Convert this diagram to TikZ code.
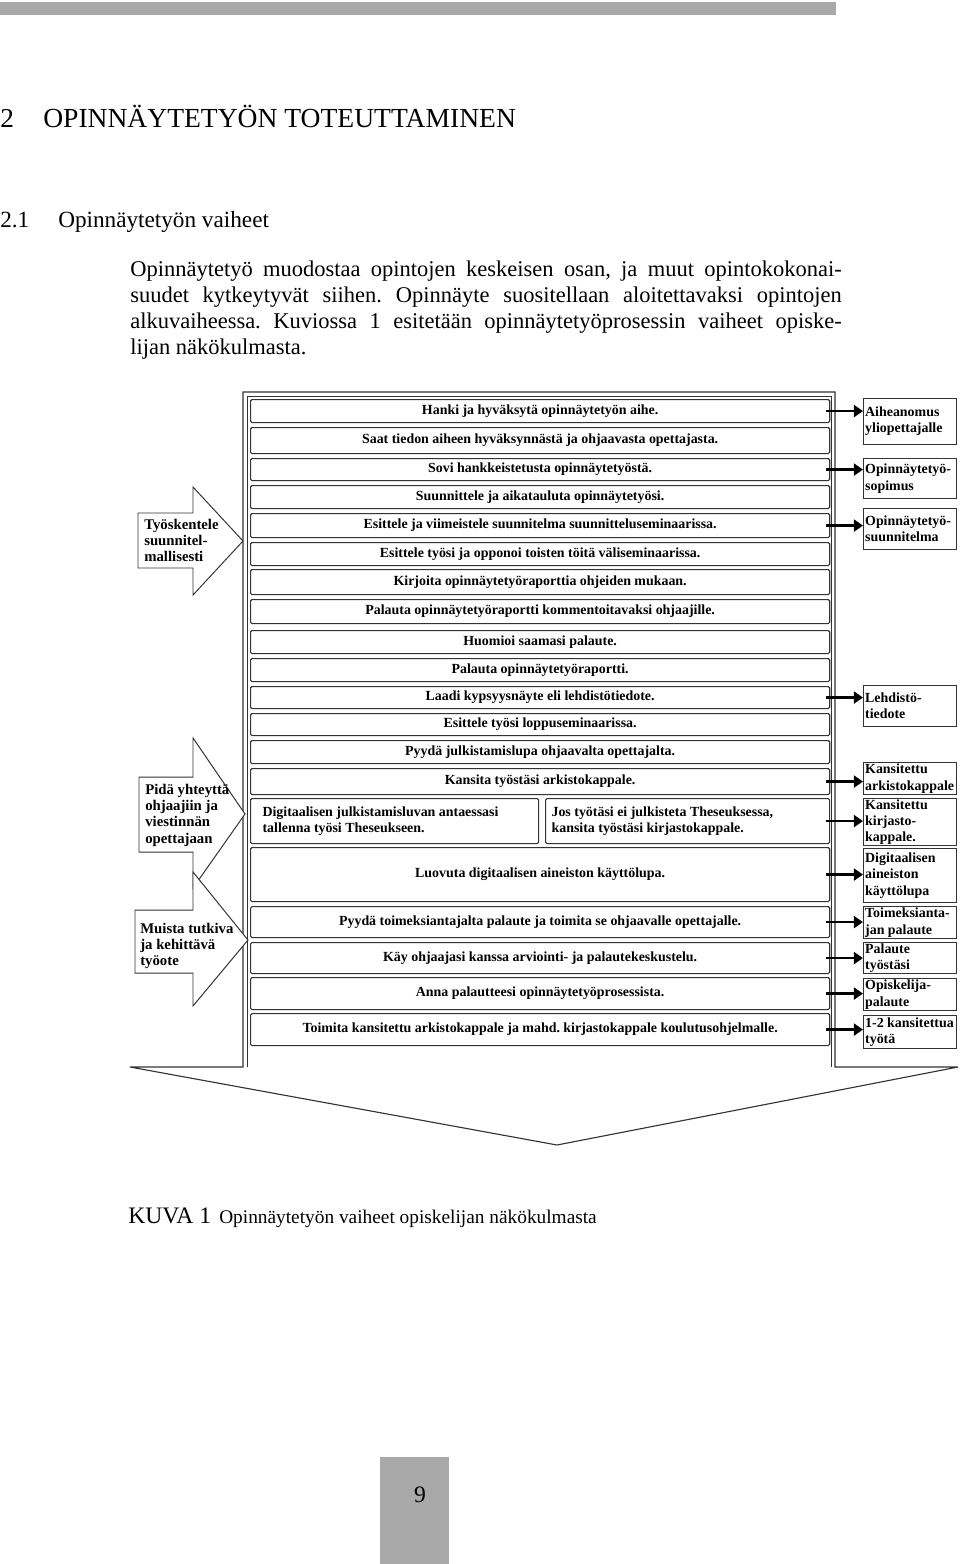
\documentclass[tikz,border=0pt]{standalone}
\usepackage{fontspec}
\setmainfont{Liberation Serif}
\usepackage{tikz}
\usetikzlibrary{arrows.meta,positioning}
\definecolor{PageGrey}{HTML}{A9A9A9}
\definecolor{FrameGrey}{HTML}{333333}
\newcommand\diafont{\fontsize{9.9}{11.5}\selectfont\bfseries}
\newcommand\armfont{\fontsize{10.5}{11.5}\selectfont\bfseries}
\newcommand\bodyfont{\fontsize{16}{18.4}\selectfont}
\frenchspacing

\begin{document}
\begin{tikzpicture}[x=0.025cm,y=-0.025cm,
  row/.style={draw=FrameGrey,line width=0.8pt,rounded corners=1pt,anchor=north west,minimum width=14.475cm,inner sep=1pt,font=\diafont},
  sidebox/.style={draw=FrameGrey,line width=0.8pt,anchor=north west,text width=2.25cm,inner xsep=0.04cm,inner ysep=0pt,align=flush left,font=\diafont},
  feed/.style={line width=2pt,-{Triangle[length=6.5pt,width=8.5pt]}},
  blockarrow/.style={draw=FrameGrey,fill=white,line width=0.7pt},
  armtext/.style={anchor=north west,inner sep=0pt,align=flush left,font=\armfont},
  frame/.style={draw=FrameGrey,line width=0.8pt},
  pagetext/.style={anchor=base west,inner sep=0pt}]
\useasboundingbox (0,0) rectangle (960,1564);
\fill[PageGrey] (0,2) rectangle (836,15);
\node[pagetext,font=\fontsize{19.4}{23}\selectfont] (chapnum) at (0,128) {2};
\node[pagetext,font=\fontsize{19.6}{23}\selectfont] (chaptitle) at (43,128) {OPINNÄYTETYÖN TOTEUTTAMINEN};
\node[pagetext,font=\fontsize{16.5}{20}\selectfont] (secnum) at (0,227) {2.1};
\node[pagetext,font=\fontsize{16.5}{20}\selectfont] (sectitle) at (58,227) {Opinnäytetyön vaiheet};
\node[pagetext,font=\bodyfont] (body1) at (130,276) {\makebox[506pt][s]{Opinnäytetyö muodostaa opintojen keskeisen osan, ja muut opintokokonai-}};
\node[pagetext,font=\bodyfont] (body2) at (130,302) {\makebox[506pt][s]{suudet kytkeytyvät siihen. Opinnäyte suositellaan aloitettavaksi opintojen}};
\node[pagetext,font=\bodyfont] (body3) at (130,328) {\makebox[506pt][s]{alkuvaiheessa. Kuviossa 1 esitetään opinnäytetyöprosessin vaiheet opiske-}};
\node[pagetext,font=\bodyfont] (body4) at (130,354) {lijan näkökulmasta.};

\draw[frame] (243,392) -- (835,392) -- (835,1067) -- (958,1067) -- (557,1145) -- (130,1067) -- (243,1067) -- cycle;
\draw[frame,line width=0.5pt] (247,1067) -- (247,396) -- (831,396) -- (831,1067);

\node[row,minimum height=0.575cm] (hanki) at (250,399) {Hanki ja hyväksytä opinnäytetyön aihe.};
\node[row,minimum height=0.65cm] (tiedon) at (250,427) {Saat tiedon aiheen hyväksynnästä ja ohjaavasta opettajasta.};
\node[row,minimum height=0.55cm] (sovi) at (250,458) {Sovi hankkeistetusta opinnäytetyöstä.};
\node[row,minimum height=0.575cm] (aikataulu) at (250,485) {Suunnittele ja aikatauluta opinnäytetyösi.};
\node[row,minimum height=0.6cm] (suunsem) at (250,513) {Esittele ja viimeistele suunnitelma suunnitteluseminaarissa.};
\node[row,minimum height=0.575cm] (valisem) at (250,542) {Esittele työsi ja opponoi toisten töitä väliseminaarissa.};
\node[row,minimum height=0.625cm] (kirjoita) at (250,569) {Kirjoita opinnäytetyöraporttia ohjeiden mukaan.};
\node[row,minimum height=0.6cm] (kommentit) at (250,599) {Palauta opinnäytetyöraportti kommentoitavaksi ohjaajille.};
\node[row,minimum height=0.575cm] (huomioi) at (250,630) {Huomioi saamasi palaute.};
\node[row,minimum height=0.575cm] (palauta) at (250,658) {Palauta opinnäytetyöraportti.};
\node[row,minimum height=0.55cm] (laadi) at (250,686) {Laadi kypsyysnäyte eli lehdistötiedote.};
\node[row,minimum height=0.55cm] (loppusem) at (250,713) {Esittele työsi loppuseminaarissa.};
\node[row,minimum height=0.575cm] (julklupa) at (250,740) {Pyydä julkistamislupa ohjaavalta opettajalta.};
\node[row,minimum height=0.65cm] (kansita) at (250,768) {Kansita työstäsi arkistokappale.};
\node[row,minimum width=7.2cm,minimum height=1.125cm,text width=6.6cm,inner xsep=0.3cm,align=flush left] (theseus) at (250,798) {Digitaalisen julkistamisluvan antaessasi\\tallenna työsi Theseukseen.};
\node[row,minimum width=7.1cm,minimum height=1.125cm,text width=6.8cm,inner xsep=0.15cm,align=flush left] (eijulk) at (545,798) {Jos työtäsi ei julkisteta Theseuksessa,\\kansita työstäsi kirjastokappale.};
\node[row,minimum height=1.35cm] (luovuta) at (250,847) {Luovuta digitaalisen aineiston käyttölupa.};
\node[row,minimum height=0.775cm] (toimeks) at (250,906) {Pyydä toimeksiantajalta palaute ja toimita se ohjaavalle opettajalle.};
\node[row,minimum height=0.775cm] (arviointi) at (250,942) {Käy ohjaajasi kanssa arviointi- ja palautekeskustelu.};
\node[row,minimum height=0.8cm] (anna) at (250,977) {Anna palautteesi opinnäytetyöprosessista.};
\node[row,minimum height=0.8cm] (toimita) at (250,1013) {Toimita kansitettu arkistokappale ja mahd. kirjastokappale koulutusohjelmalle.};

\node[sidebox,minimum height=1.15cm] (aihe) at (863,398) {Aiheanomus\\yliopettajalle};
\node[sidebox,minimum height=1cm] (sopimus) at (863,458) {Opinnäytetyö-\\sopimus};
\node[sidebox,minimum height=1.025cm] (suunnitelma) at (863,508) {Opinnäytetyö-\\suunnitelma};
\node[sidebox,minimum height=1.025cm] (tiedote) at (863,685) {Lehdistö-\\tiedote};
\node[sidebox,minimum height=0.8cm] (arkisto) at (863,762) {Kansitettu\\arkistokappale};
\node[sidebox,minimum height=1.175cm] (kirjasto) at (863,798) {Kansitettu\\kirjasto-\\kappale.};
\node[sidebox,minimum height=1.35cm] (kayttolupa) at (863,848) {Digitaalisen\\aineiston\\käyttölupa};
\node[sidebox,minimum height=0.8cm] (toimpal) at (863,906) {Toimeksianta-\\jan palaute};
\node[sidebox,minimum height=0.775cm] (tyopal) at (863,942) {Palaute\\työstäsi};
\node[sidebox,minimum height=0.8cm] (opiskpal) at (863,978) {Opiskelija-\\palaute};
\node[sidebox,minimum height=0.825cm] (kansitetut) at (863,1015) {1-2 kansitettua\\työtä};

\draw[feed] ([xshift=-3pt]hanki.east) -- (hanki.east -| aihe.west);
\draw[feed] ([xshift=-3pt]sovi.east) -- (sovi.east -| sopimus.west);
\draw[feed] ([xshift=-3pt]suunsem.east) -- (suunsem.east -| suunnitelma.west);
\draw[feed] ([xshift=-3pt]laadi.east) -- (laadi.east -| tiedote.west);
\draw[feed] ([xshift=-3pt]kansita.east) -- (kansita.east -| arkisto.west);
\draw[feed] ([xshift=-3pt]eijulk.east) -- (eijulk.east -| kirjasto.west);
\draw[feed] ([xshift=-3pt]luovuta.east) -- (luovuta.east -| kayttolupa.west);
\draw[feed] ([xshift=-3pt]toimeks.east) -- (toimeks.east -| toimpal.west);
\draw[feed] ([xshift=-3pt]arviointi.east) -- (arviointi.east -| tyopal.west);
\draw[feed] ([xshift=-3pt]anna.east) -- (anna.east -| opiskpal.west);
\draw[feed] ([xshift=-3pt]toimita.east) -- (toimita.east -| kansitetut.west);

\draw[blockarrow] (138,513) -- (193,513) -- (193,487) -- (243,541) -- (193,595) -- (193,568) -- (138,568) -- cycle;
\node[armtext] (tyoskentele) at (144,519) {Työskentele\\suunnitel-\\mallisesti};
\draw[blockarrow] (139,777) -- (193,777) -- (193,738) -- (245,814) -- (193,888) -- (193,852) -- (139,852) -- cycle;
\node[armtext] (yhteys) at (145,784) {Pidä yhteyttä\\ohjaajiin ja\\viestinnän\\opettajaan};
\draw[blockarrow] (135,910) -- (193,910) -- (193,872) -- (248,940) -- (193,1006) -- (193,973) -- (135,973) -- cycle;
\node[armtext] (tutkiva) at (140,923) {Muista tutkiva\\ja kehittävä\\työote};

\node[pagetext,font=\fontsize{16.8}{20}\selectfont] (kuva) at (128,1223) {KUVA 1};
\node[pagetext,font=\fontsize{13.75}{16}\selectfont] (kuvateksti) at (219,1223) {Opinnäytetyön vaiheet opiskelijan näkökulmasta};
\fill[PageGrey] (380,1457) rectangle (449,1564);
\node[font=\fontsize{16.8}{20}\selectfont] (sivu) at (420,1495) {9};
\end{tikzpicture}
\end{document}
